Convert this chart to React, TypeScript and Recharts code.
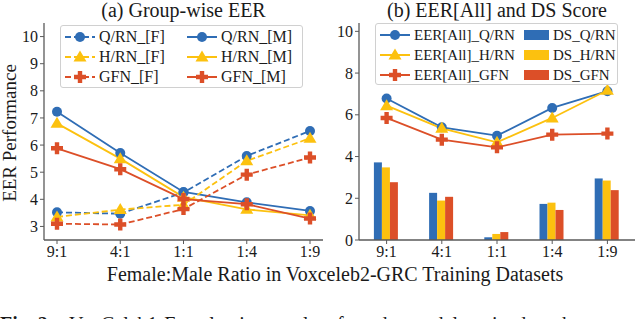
import React from 'react';
import { LineChart, ComposedChart, Line, Bar, XAxis, YAxis } from 'recharts';

const ratios = ['9:1', '4:1', '1:1', '1:4', '1:9'];

// (a) group-wise EER
const qrnFemale = [3.52, 3.47, 4.25, 5.6, 6.52];
const qrnMale = [7.23, 5.71, 4.27, 3.89, 3.57];
const hrnFemale = [3.35, 3.62, 3.8, 5.42, 6.25];
const hrnMale = [6.8, 5.5, 4.08, 3.63, 3.41];
const gfnFemale = [3.1, 3.07, 3.64, 4.91, 5.54];
const gfnMale = [5.88, 5.11, 4.01, 3.82, 3.29];

// (b) EER[All] and DS score
const eerQrn = [6.78, 5.4, 5.0, 6.33, 7.13];
const eerHrn = [6.44, 5.35, 4.68, 5.85, 7.18];
const eerGfn = [5.85, 4.81, 4.44, 5.05, 5.1];
const dsQrn = [3.72, 2.26, 0.13, 1.73, 2.95];
const dsHrn = [3.48, 1.89, 0.29, 1.79, 2.85];
const dsGfn = [2.77, 2.07, 0.38, 1.44, 2.39];

const leftTicks = [3, 4, 5, 6, 7, 8, 9, 10];
const rightTicks = [0, 2, 4, 6, 8, 10];

const BLUE = '#2f6db5';
const YELLOW = '#fcc10f';
const RED = '#dc4f28';
const FRAME = '#5a5a5a';
const FONT = 'Liberation Serif, serif';

const groupData = ratios.map((r, i) => ({
  ratio: r,
  qrnF: qrnFemale[i], qrnM: qrnMale[i],
  hrnF: hrnFemale[i], hrnM: hrnMale[i],
  gfnF: gfnFemale[i], gfnM: gfnMale[i],
}));

const allData = ratios.map((r, i) => ({
  ratio: r,
  eerQ: eerQrn[i], eerH: eerHrn[i], eerG: eerGfn[i],
  dsQ: dsQrn[i], dsH: dsHrn[i], dsG: dsGfn[i],
}));

type Shape = 'circle' | 'triangle' | 'plus';

const Marker = ({ shape, cx, cy, color }: { shape: Shape; cx: number; cy: number; color: string }) => {
  if (shape === 'circle') return <circle cx={cx} cy={cy} r={5} fill={color} />;
  if (shape === 'triangle')
    return <path d={`M${cx},${cy - 6.5}L${cx + 6.5},${cy + 4.5}L${cx - 6.5},${cy + 4.5}Z`} fill={color} />;
  const a = 6, b = 2.2;
  return (
    <path
      d={`M${cx - b},${cy - a}H${cx + b}V${cy - b}H${cx + a}V${cy + b}H${cx + b}V${cy + a}H${cx - b}V${cy + b}H${cx - a}V${cy - b}H${cx - b}Z`}
      fill={color}
    />
  );
};

const dotOf = (shape: Shape, color: string) => (p: any) => (
  <Marker key={`d-${p.index}`} shape={shape} cx={p.cx} cy={p.cy} color={color} />
);

const leftSeries = [
  { key: 'qrnF', name: 'Q/RN_[F]', color: BLUE, shape: 'circle' as Shape, dash: '6 3' },
  { key: 'qrnM', name: 'Q/RN_[M]', color: BLUE, shape: 'circle' as Shape, dash: undefined },
  { key: 'hrnF', name: 'H/RN_[F]', color: YELLOW, shape: 'triangle' as Shape, dash: '6 3' },
  { key: 'hrnM', name: 'H/RN_[M]', color: YELLOW, shape: 'triangle' as Shape, dash: undefined },
  { key: 'gfnF', name: 'GFN_[F]', color: RED, shape: 'plus' as Shape, dash: '6 3' },
  { key: 'gfnM', name: 'GFN_[M]', color: RED, shape: 'plus' as Shape, dash: undefined },
];

const lineSeries = [
  { key: 'eerQ', name: 'EER[All]_Q/RN', color: BLUE, shape: 'circle' as Shape },
  { key: 'eerH', name: 'EER[All]_H/RN', color: YELLOW, shape: 'triangle' as Shape },
  { key: 'eerG', name: 'EER[All]_GFN', color: RED, shape: 'plus' as Shape },
];

const barSeries = [
  { key: 'dsQ', name: 'DS_Q/RN', color: BLUE },
  { key: 'dsH', name: 'DS_H/RN', color: YELLOW },
  { key: 'dsG', name: 'DS_GFN', color: RED },
];

const tickStyle = { fontFamily: FONT, fontSize: 16, fill: '#1a1a1a' };

const LineKey = ({ color, shape, dash }: { color: string; shape: Shape; dash?: string }) => (
  <svg width={32} height={14} style={{ flex: 'none' }}>
    <line x1={1} y1={7} x2={31} y2={7} stroke={color} strokeWidth={2} strokeDasharray={dash} />
    <Marker shape={shape} cx={16} cy={7} color={color} />
  </svg>
);

const legendBox: React.CSSProperties = {
  position: 'absolute',
  border: '1px solid #d0d0d0',
  borderRadius: 3,
  background: 'rgba(255,255,255,0.85)',
  display: 'grid',
  fontFamily: FONT,
  color: '#1a1a1a',
  boxSizing: 'border-box',
};

const item: React.CSSProperties = { display: 'flex', alignItems: 'center', gap: 3, height: 20, whiteSpace: 'nowrap' };

export default function App() {
  return (
    <div style={{ position: 'relative', width: 640, height: 319, overflow: 'hidden', background: '#fff', fontFamily: FONT }}>
      <style>{'body{margin:0}'}</style>

      {/* titles */}
      <div style={{ position: 'absolute', left: 44, width: 279, top: -1, textAlign: 'center', fontSize: 20, color: '#1a1a1a' }}>
        (a) Group-wise EER
      </div>
      <div style={{ position: 'absolute', left: 359, width: 276, top: -1, textAlign: 'center', fontSize: 20, color: '#1a1a1a' }}>
        (b) EER[All] and DS Score
      </div>

      {/* (a) */}
      <div style={{ position: 'absolute', left: 0, top: 0 }}>
        <LineChart width={330} height={319} data={groupData} margin={{ top: 23, right: 7, bottom: 49, left: 0 }}
          style={{ fontFamily: FONT }}>
          <XAxis dataKey="ratio" height={30} padding={{ left: 13, right: 13 }} tick={tickStyle} tickSize={4}
            axisLine={{ stroke: FRAME, strokeWidth: 1.3 }} tickLine={{ stroke: FRAME }} interval={0} />
          <XAxis xAxisId="top" dataKey="ratio" orientation="top" height={0} tick={false} tickLine={false}
            axisLine={{ stroke: FRAME, strokeWidth: 1.3 }} />
          <YAxis width={44} domain={[2.5, 10.5]} ticks={leftTicks} tick={tickStyle} tickSize={4}
            axisLine={{ stroke: FRAME, strokeWidth: 1.3 }} tickLine={{ stroke: FRAME }} />
          <YAxis yAxisId="right" orientation="right" width={0} tick={false} tickLine={false}
            axisLine={{ stroke: FRAME, strokeWidth: 1.3 }} />
          {leftSeries.map((s) => (
            <Line key={s.key} dataKey={s.key} name={s.name} stroke={s.color} strokeWidth={1.8}
              strokeDasharray={s.dash} dot={dotOf(s.shape, s.color)} activeDot={false}
              isAnimationActive={false} />
          ))}
        </LineChart>
      </div>

      {/* (b) */}
      <div style={{ position: 'absolute', left: 330, top: 0 }}>
        <ComposedChart width={310} height={319} data={allData} margin={{ top: 23, right: 5, bottom: 49, left: 0 }}
          barCategoryGap="27%" barGap={0} style={{ fontFamily: FONT }}>
          <XAxis dataKey="ratio" height={30} tick={tickStyle} tickSize={4}
            axisLine={{ stroke: FRAME, strokeWidth: 1.3 }} tickLine={{ stroke: FRAME }} interval={0} />
          <XAxis xAxisId="top" dataKey="ratio" orientation="top" height={0} tick={false} tickLine={false}
            axisLine={{ stroke: FRAME, strokeWidth: 1.3 }} />
          <YAxis width={29} domain={[0, 10.4]} ticks={rightTicks} tick={tickStyle} tickSize={4}
            axisLine={{ stroke: FRAME, strokeWidth: 1.3 }} tickLine={{ stroke: FRAME }} />
          <YAxis yAxisId="right" orientation="right" width={0} tick={false} tickLine={false}
            axisLine={{ stroke: FRAME, strokeWidth: 1.3 }} />
          {barSeries.map((s) => (
            <Bar key={s.key} dataKey={s.key} name={s.name} fill={s.color} isAnimationActive={false} />
          ))}
          {lineSeries.map((s) => (
            <Line key={s.key} dataKey={s.key} name={s.name} stroke={s.color} strokeWidth={1.8}
              dot={dotOf(s.shape, s.color)} activeDot={false} isAnimationActive={false} />
          ))}
        </ComposedChart>
      </div>

      {/* legend (a) */}
      <div style={{ ...legendBox, fontSize: 16, left: 60, top: 25, width: 243, height: 63, gridTemplateColumns: '122px 118px', padding: '1px 0 0 3px' }}>
        {leftSeries.map((s) => (
          <div key={s.key} style={item}>
            <LineKey color={s.color} shape={s.shape} dash={s.dash} />
            <span>{s.name}</span>
          </div>
        ))}
      </div>

      {/* legend (b) */}
      <div style={{ ...legendBox, fontSize: 15, left: 375, top: 23, width: 243, height: 62, gridTemplateColumns: '145px 95px', padding: '1px 0 0 3px' }}>
        {lineSeries.map((s, i) => (
          <React.Fragment key={s.key}>
            <div style={item}>
              <LineKey color={s.color} shape={s.shape} />
              <span>{s.name}</span>
            </div>
            <div style={item}>
              <svg width={26} height={12} style={{ flex: 'none' }}>
                <rect x={0} y={1} width={25} height={10} fill={barSeries[i].color} />
              </svg>
              <span>{barSeries[i].name}</span>
            </div>
          </React.Fragment>
        ))}
      </div>

      {/* axis labels */}
      <div style={{ position: 'absolute', left: 10, top: 133, transform: 'translate(-50%, -50%) rotate(-90deg)', fontSize: 19, color: '#1a1a1a', whiteSpace: 'nowrap' }}>
        EER Performance
      </div>
      <div style={{ position: 'absolute', left: 0, width: 670, top: 263, textAlign: 'center', fontSize: 20, color: '#1a1a1a', whiteSpace: 'nowrap' }}>
        Female:Male Ratio in Voxceleb2-GRC Training Datasets
      </div>

      {/* caption, cut by the image edge */}
      <div style={{ position: 'absolute', left: 0, top: 313, fontSize: 20, color: '#1a1a1a', whiteSpace: 'nowrap' }}>
        <b>Fig. 2:</b>&nbsp;&nbsp; VoxCeleb1-E evaluation results of gender models trained on the
      </div>
    </div>
  );
}
